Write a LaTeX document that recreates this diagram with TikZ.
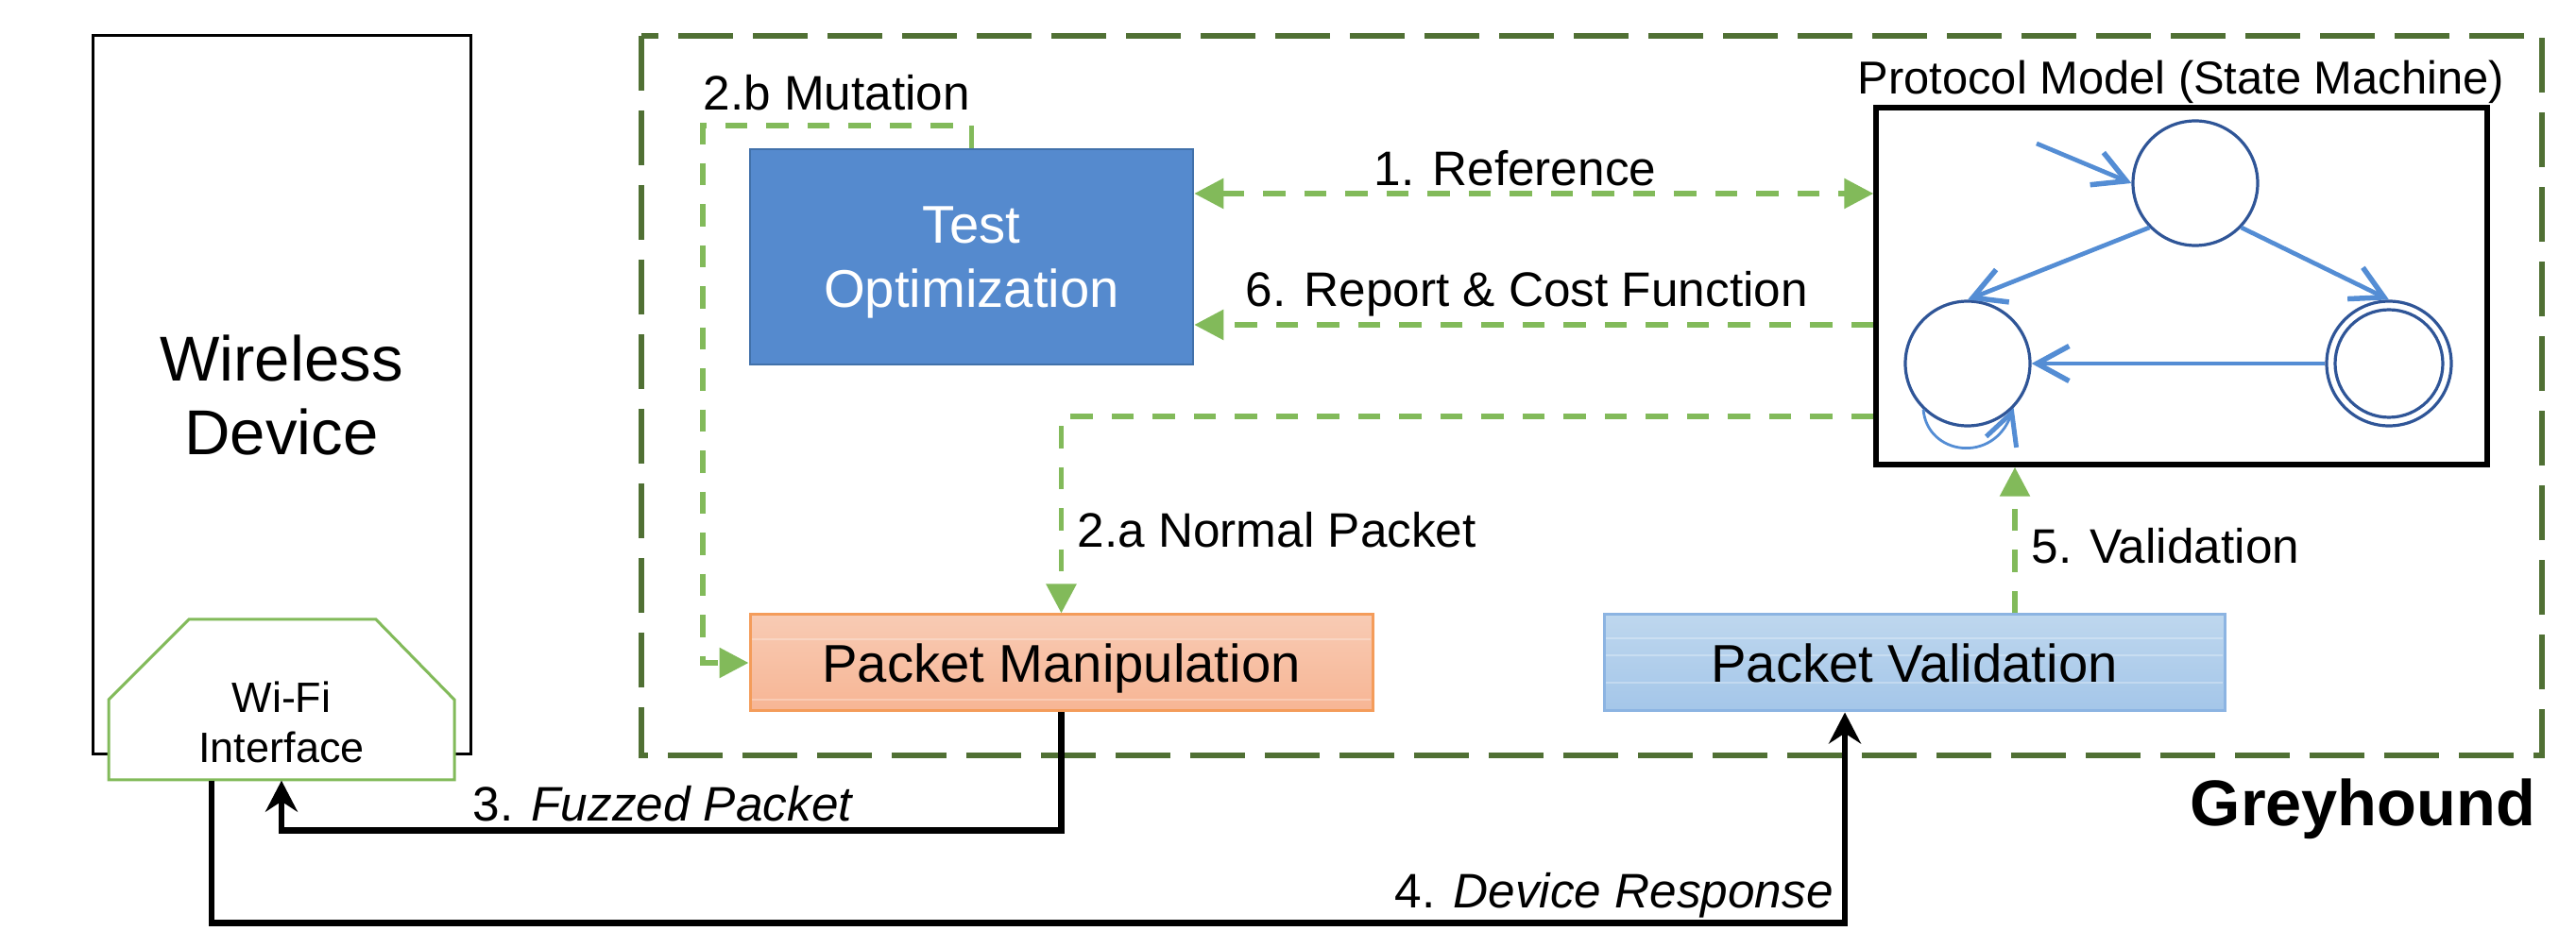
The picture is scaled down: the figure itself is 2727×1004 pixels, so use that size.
\documentclass[tikz,border=0pt]{standalone}
\usepackage{fontspec}
\setmainfont{Liberation Sans}
\usetikzlibrary{arrows.meta, calc}
\definecolor{ghgreen}{RGB}{80,112,52}
\definecolor{lgreen}{RGB}{130,186,90}
\definecolor{toblue}{RGB}{85,138,206}
\definecolor{toborder}{RGB}{65,113,170}
\definecolor{pmtop}{RGB}{248,203,180}
\definecolor{pmbot}{RGB}{247,181,148}
\definecolor{pmborder}{RGB}{244,156,90}
\definecolor{pvtop}{RGB}{190,215,238}
\definecolor{pvbot}{RGB}{164,198,233}
\definecolor{pvborder}{RGB}{140,180,226}
\definecolor{stedge}{RGB}{84,141,212}
\definecolor{stcircle}{RGB}{47,85,151}
\tikzset{
  gbox/.style={draw=ghgreen, line width=0.67mm, dash pattern=on 5.8mm off 2.1mm},
  gline/.style={draw=lgreen, line width=0.57mm, dash pattern=on 2.35mm off 2mm},
  garrow/.style={gline, -{Triangle[length=3.1mm,width=3.1mm]}},
  gboth/.style={gline, {Triangle[length=3.1mm,width=3.1mm]}-{Triangle[length=3.1mm,width=3.1mm]}},
  barrow/.style={draw=black, line width=0.65mm, -{Stealth[length=3.3mm,width=3.4mm,inset=1.1mm]}},
  statenode/.style={circle, draw=stcircle, line width=0.32mm, minimum size=13.2mm, inner sep=0pt},
  tedge/.style={draw=stedge, line width=0.47mm, -{Straight Barb[length=3.4mm,width=3.7mm,line width=0.55mm 0]}},
  loopedge/.style={draw=stedge, line width=0.28mm, -{Straight Barb[length=3.3mm,width=3.4mm,line width=0.5mm 0]}},
  stripe/.style={draw=white, draw opacity=0.28, line width=0.2mm},
  lbl/.style={inner sep=0pt, anchor=base west, font=\fontsize{14.6}{17}\selectfont},
  boxfont/.style={font=\fontsize{16}{19.35}\selectfont},
}
\begin{document}
\begin{tikzpicture}[x=0.1mm, y=-0.1mm]
\useasboundingbox (0,0) rectangle (2727,1004);

% Greyhound frame
\draw[gbox] (679,38) rectangle (2691,800);
\node[inner sep=0pt, anchor=base east, font=\bfseries\fontsize{19.5}{23}\selectfont] (gh) at (2685,874) {Greyhound};

% Wireless device
\node[draw, line width=0.3mm, minimum width=40mm, minimum height=76.1mm, inner sep=0pt,
      align=center, font=\fontsize{19.1}{22.2}\selectfont] (wd) at (298,418.5) {Wireless\\Device};

% Wi-Fi interface
\draw[draw=lgreen, fill=white, line width=0.3mm] (115,826) -- (115,741) -- (200,656) -- (398,656) -- (481,741) -- (481,826) -- cycle;
\node[minimum width=36.6mm, minimum height=17mm, inner sep=0pt] (wifi) at (298,741) {};
\node[align=center, inner sep=0pt, font=\fontsize{12.8}{15.1}\selectfont] (wifitext) at (298,765) {Wi-Fi\\Interface};

% Main boxes
\node[fill=toblue, draw=toborder, line width=0.25mm, minimum width=46.9mm, minimum height=22.8mm,
      text=white, align=center, text depth=0pt, boxfont] (to) at (1028.5,272) {Test\\Optimization};
\node[top color=pmtop, bottom color=pmbot, draw=pmborder, line width=0.3mm, minimum width=65.9mm,
      minimum height=10.2mm, boxfont] (pm) at (1123.5,702) {};
\draw[stripe] (796,677) -- (1451,677);
\draw[stripe] (796,741) -- (1451,741);
\node[text depth=0pt, inner sep=0pt, boxfont] (pmtext) at (pm.center) {Packet Manipulation};
\node[top color=pvtop, bottom color=pvbot, draw=pvborder, line width=0.3mm, minimum width=65.7mm,
      minimum height=10.2mm, boxfont] (pv) at (2026.5,702) {};
\draw[stripe] (1700,676) -- (2353,676);
\draw[stripe] (1700,694) -- (2353,694);
\draw[stripe] (1700,723) -- (2353,723);
\node[text depth=0pt, inner sep=0pt, boxfont] (pvtext) at (pv.center) {Packet Validation};

% Protocol model
\node[draw, line width=0.55mm, minimum width=64.7mm, minimum height=37.8mm, inner sep=0pt] (pmod) at (2309.5,303) {};
\node[inner sep=0pt, anchor=base west, font=\fontsize{13.9}{16}\selectfont] (pmodtitle) at (1966,100) {Protocol Model (State Machine)};

% State machine
\node[statenode] (st) at (2324,194) {};
\node[statenode] (sl) at (2083,385) {};
\node[statenode] (sr) at (2529,385) {};
\draw[stcircle, line width=0.32mm] (sr.center) circle[radius=5.7mm];
\coordinate (init) at (2156,152);
\draw[tedge] (init) -- (st.west);
\draw[tedge] (st.224) -- (sl.north);
\draw[tedge] (st.316) -- (sr.north);
\draw[tedge] (sr.west) -- (sl.east);
\draw[loopedge] (sl.226) .. controls (2040,482) and (2110,492) .. (sl.316);

% Green dashed connectors
\draw[gboth] ($(to.east)+(0,-67)$) -- ($(pmod.west)+(0,-98)$);
\node[lbl] at (1454,197) {1. Reference};
\draw[garrow] ($(pmod.west)+(0,41)$) -- ($(to.east)+(0,72)$);
\node[lbl] at (1318,325) {6. Report \& Cost Function};
\draw[garrow] ($(pmod.west)+(0,138)$) -| (pm.north);
\node[lbl] at (1140,580) {2.a Normal Packet};
\draw[garrow] (to.north) |- (744,133) |- (pm.west);
\node[lbl] at (744,117) {2.b Mutation};
\coordinate (va) at ($(pv.north)+(106.5,0)$);
\draw[garrow] (va) -- (va |- pmod.south);
\node[lbl] at (2150,597) {5. Validation};

% Black connectors
\draw[barrow] (pm.south) -- ++(0,125) -| (wifi.south);
\node[lbl] at (500,870) {3. \textit{Fuzzed Packet}};
\draw[barrow] ($(wifi.south)+(-74,0)$) -- ++(0,151) -| ($(pv.south)+(-73.5,0)$);
\node[lbl] at (1476,962) {4. \textit{Device Response}};
\end{tikzpicture}
\end{document}
